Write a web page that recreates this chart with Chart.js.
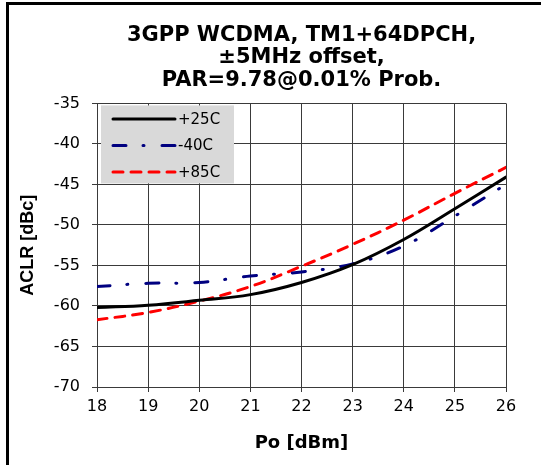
<!DOCTYPE html>
<html>
<head>
<meta charset="utf-8">
<script src="https://cdn.jsdelivr.net/npm/chart.js@4/dist/chart.umd.min.js"></script>
<style>
  html, body { margin: 0; padding: 0; background: #fff; }
  #wrap { position: relative; width: 541px; height: 465px; overflow: hidden; }
  #frame { position: absolute; left: 6px; top: 2px; width: 535px; height: 463px;
           box-sizing: border-box; border-left: 3px solid #000; border-top: 3px solid #000;
           pointer-events: none; }
  canvas { position: absolute; left: 0; top: 0; }
</style>
</head>
<body>
<div id="wrap">
  <canvas id="c" width="541" height="465"></canvas>
  <div id="frame"></div>
</div>
<script>
// ---- data ----
const poDbm   = [18, 19, 20, 21, 22, 23, 24, 25, 26];
const aclr25C = [-60.2, -59.9, -59.3, -58.6, -57.1, -54.9, -51.8, -48.0, -44.1];
const aclrM40C = [-57.6, -57.2, -57.1, -56.3, -55.8, -54.8, -52.6, -48.9, -45.0];
const aclr85C = [-61.7, -60.8, -59.4, -57.6, -55.1, -52.4, -49.4, -46.1, -42.9];
const seriesLabels = ['+25C', '-40C', '+85C'];
const xTickValues = [18, 19, 20, 21, 22, 23, 24, 25, 26];
const yTickValues = [-70, -65, -60, -55, -50, -45, -40, -35];
const titleLines = ['3GPP WCDMA, TM1+64DPCH,', '\u00B15MHz offset,', 'PAR=9.78@0.01% Prob.'];
const xTitle = 'Po [dBm]';
const yTitle = 'ACLR [dBc]';

const toPts = (ys) => poDbm.map((x, i) => ({ x: x, y: ys[i] }));

const boxLegend = {
  id: 'boxLegend',
  afterDatasetsDraw(chart) {
    const { ctx, chartArea: ca } = chart;
    const x0 = ca.left + 4, y0 = ca.top + 2, w = 133, h = 78;
    ctx.save();
    ctx.fillStyle = '#d9d9d9';
    ctx.fillRect(x0, y0, w, h);
    chart.data.datasets.forEach((ds, i) => {
      const y = y0 + 13.5 + i * 26.5;
      ctx.beginPath();
      ctx.setLineDash(ds.borderDash || []);
      ctx.lineCap = ds.borderCapStyle || 'butt';
      ctx.lineWidth = ds.borderWidth;
      ctx.strokeStyle = ds.borderColor;
      ctx.moveTo(x0 + 12, y);
      ctx.lineTo(x0 + 74, y);
      ctx.stroke();
      ctx.setLineDash([]);
      ctx.fillStyle = '#000';
      ctx.font = '15px "DejaVu Sans"';
      ctx.textBaseline = 'middle';
      ctx.textAlign = 'left';
      ctx.fillText(ds.label, x0 + 77, y + 1);
    });
    ctx.restore();
  }
};

const gridColor = '#3a3a3a';
const padLeft = 10;

new Chart(document.getElementById('c'), {
  type: 'line',
  data: {
    datasets: [
      { label: seriesLabels[0], data: toPts(aclr25C), borderColor: '#000000', borderWidth: 3,
        borderCapStyle: 'round', pointRadius: 0, tension: 0.4, fill: false },
      { label: seriesLabels[1], data: toPts(aclrM40C), borderColor: '#000080', borderWidth: 3,
        borderDash: [13, 17, 1, 18], borderCapStyle: 'round', pointRadius: 0, tension: 0.4, fill: false },
      { label: seriesLabels[2], data: toPts(aclr85C), borderColor: '#ff0000', borderWidth: 3,
        borderDash: [10, 8], borderCapStyle: 'round', pointRadius: 0, tension: 0.4, fill: false }
    ]
  },
  options: {
    responsive: false,
    animation: false,
    devicePixelRatio: 1,
    layout: { padding: { left: padLeft, right: 35, top: 24, bottom: 11 } },
    plugins: {
      legend: { display: false },
      tooltip: { enabled: false },
      title: {
        display: true,
        fullSize: false,
        text: titleLines,
        color: '#000',
        font: { family: '"DejaVu Sans"', size: 21, weight: 'bold', lineHeight: 1.07 },
        padding: { top: 0, bottom: 12 }
      }
    },
    scales: {
      x: {
        type: 'linear',
        min: 18, max: 26,
        afterBuildTicks: (s) => { s.ticks = xTickValues.map(v => ({ value: v })); },
        afterFit: (s) => { s.height = 67; },
        ticks: { color: '#000', padding: 5, font: { family: '"DejaVu Sans"', size: 16 } },
        grid: { color: gridColor, lineWidth: 1, tickLength: 5, tickColor: gridColor },
        border: { color: gridColor, width: 1 },
        title: { display: true, text: xTitle, color: '#000', padding: { top: 0, bottom: 0 },
                 font: { family: '"DejaVu Sans"', size: 18, weight: 'bold', lineHeight: 1.2 } }
      },
      y: {
        type: 'linear',
        min: -70, max: -35,
        afterBuildTicks: (s) => { s.ticks = yTickValues.map(v => ({ value: v })); },
        afterFit: (s) => { s.width = 97 - padLeft; },
        ticks: { color: '#000', padding: 12, font: { family: '"DejaVu Sans"', size: 16 } },
        grid: { color: gridColor, lineWidth: 1, tickLength: 5, tickColor: gridColor },
        border: { color: gridColor, width: 1 },
        title: { display: true, text: yTitle, color: '#000', padding: { top: 7, bottom: 0 },
                 font: { family: '"Liberation Sans"', size: 18, weight: 'bold', lineHeight: 1.2 } }
      }
    }
  },
  plugins: [boxLegend]
});
</script>
</body>
</html>
